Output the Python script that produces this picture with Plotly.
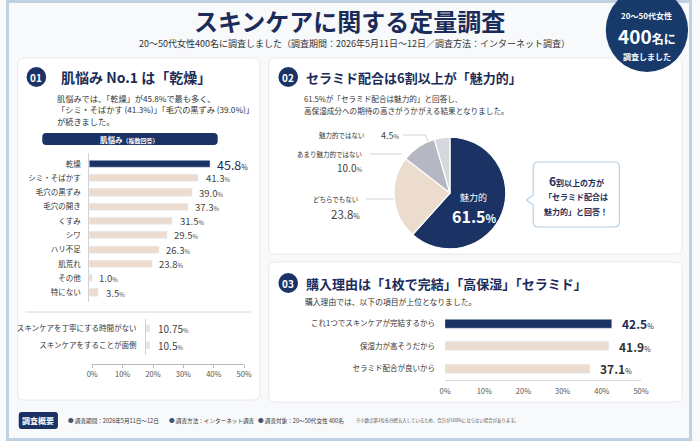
import plotly.graph_objects as go

W, H = 700, 441
FONT = "Noto Sans CJK JP"
NAVY = "#1b3264"
BEIGE = "#ecdccf"
TXT = "#333333"

# ---- data ----
nayami = ["乾燥", "シミ・そばかす", "毛穴の黒ずみ", "毛穴の開き", "くすみ", "シワ",
          "ハリ不足", "肌荒れ", "その他", "特にない"]
nayami_val = [45.8, 41.3, 39.0, 37.3, 31.5, 29.5, 26.3, 23.8, 1.0, 3.5]

sub_items = ["スキンケアを丁寧にする時間がない", "スキンケアをすることが面倒"]
sub_val = [10.75, 10.5]

pie_labels = ["魅力的", "どちらでもない", "あまり魅力的ではない", "魅力的ではない"]
pie_val = [61.5, 23.8, 10.0, 4.5]
pie_colors = [NAVY, "#ecdccd", "#b5b8c3", "#d6d8de"]

riyu = ["これ1つでスキンケアが完結するから", "保湿力が高そうだから", "セラミド配合が良いから"]
riyu_val = [42.5, 41.9, 37.1]

ticks_pct = [0, 10, 20, 30, 40, 50]


def X(p):
    return p / W


def Y(p):
    return 1 - p / H


def rrect(x0, y0, x1, y1, r):
    # rounded rect path in paper coords from pixel coords
    pts = [
        f"M{X(x0 + r)},{Y(y0)}", f"L{X(x1 - r)},{Y(y0)}", f"Q{X(x1)},{Y(y0)} {X(x1)},{Y(y0 + r)}",
        f"L{X(x1)},{Y(y1 - r)}", f"Q{X(x1)},{Y(y1)} {X(x1 - r)},{Y(y1)}",
        f"L{X(x0 + r)},{Y(y1)}", f"Q{X(x0)},{Y(y1)} {X(x0)},{Y(y1 - r)}",
        f"L{X(x0)},{Y(y0 + r)}", f"Q{X(x0)},{Y(y0)} {X(x0 + r)},{Y(y0)}", "Z",
    ]
    return " ".join(pts)


def callout(x0, y0, x1, y1, r, py):
    pts = [
        f"M{X(x0 + r)},{Y(y0)}", f"L{X(x1 - r)},{Y(y0)}", f"Q{X(x1)},{Y(y0)} {X(x1)},{Y(y0 + r)}",
        f"L{X(x1)},{Y(y1 - r)}", f"Q{X(x1)},{Y(y1)} {X(x1 - r)},{Y(y1)}",
        f"L{X(x0 + r)},{Y(y1)}", f"Q{X(x0)},{Y(y1)} {X(x0)},{Y(y1 - r)}",
        f"L{X(x0)},{Y(py + 5)}", f"L{X(x0 - 7)},{Y(py)}", f"L{X(x0)},{Y(py - 5)}",
        f"L{X(x0)},{Y(y0 + r)}", f"Q{X(x0)},{Y(y0)} {X(x0 + r)},{Y(y0)}", "Z",
    ]
    return " ".join(pts)


shapes = []
ann = []


def text(x, y, s, size=8, color=TXT, anchor="left", bold=False):
    ann.append(dict(x=X(x), y=Y(y), xref="paper", yref="paper", text=f"<b>{s}</b>" if bold else s,
                    showarrow=False, xanchor=anchor, yanchor="middle",
                    font=dict(family=FONT, size=size, color=color)))


def line(x0, y0, x1, y1, color="#cfd3d8", width=1):
    shapes.append(dict(type="line", xref="paper", yref="paper", x0=X(x0), y0=Y(y0), x1=X(x1), y1=Y(y1),
                       line=dict(color=color, width=width), layer="below"))


# frame and panels
shapes.append(dict(type="rect", xref="paper", yref="paper", x0=X(1.5), y0=Y(439.5), x1=X(698.5), y1=Y(1.5),
                   line=dict(color="#bfd0e0", width=3), fillcolor="#f8f9fa", layer="below"))
for p in [(12, 58, 259, 400), (268, 58, 690, 254), (268, 262, 690, 402)]:
    shapes.append(dict(type="path", xref="paper", yref="paper", path=rrect(*p, 6),
                       line=dict(color="#e6e8ec", width=1), fillcolor="white", layer="below"))

# badge
shapes.append(dict(type="circle", xref="paper", yref="paper", x0=X(612), x1=X(696), y0=Y(72), y1=Y(-12),
                   fillcolor="#173a6b", line=dict(width=0), layer="below"))
text(654, 16, "20～50代女性", 8, "white", "center", True)
text(654, 36, "<b>400</b><span style='font-size:12px'>名に</span>", 19, "white", "center", True)
text(654, 56, "調査しました", 8, "white", "center", True)

# title
text(350, 20, "スキンケアに関する定量調査", 24, "#1c2c59", "center", True)
text(356, 44, "20～50代女性400名に調査しました（調査期間：2026年5月11日～12日／調査方法：インターネット調査）",
     9, "#333", "center")

# section numbers
for cx, cy, n in [(31, 77, "01"), (288, 77, "02"), (288, 283, "03")]:
    shapes.append(dict(type="circle", xref="paper", yref="paper", x0=X(cx - 10), x1=X(cx + 10),
                       y0=Y(cy + 10), y1=Y(cy - 10), fillcolor=NAVY, line=dict(width=0), layer="below"))
    text(cx, cy, n, 10, "white", "center", True)

# panel 1 texts
text(54, 77, "肌悩み No.1 は「乾燥」", 14, "#1c2c59", bold=True)
text(50, 98, "肌悩みでは、「乾燥」が45.8%で最も多く、", 8.2)
text(50, 109.5, "「シミ・そばかす (41.3%)」「毛穴の黒ずみ (39.0%)」", 8.2)
text(50, 121, "が続きました。", 8.2)
shapes.append(dict(type="path", xref="paper", yref="paper", path=rrect(37, 133, 216, 145, 4),
                   fillcolor=NAVY, line=dict(width=0), layer="below"))
text(126, 139, "肌悩み<span style='font-size:6px'>（複数回答）</span>", 7.5, "white", "center", True)
line(20, 312, 250, 312, "#d5d8dc", 1)

# panel 2 texts
text(304, 77, "セラミド配合は6割以上が「魅力的」", 13, "#1c2c59", bold=True)
text(302, 98, "61.5%が「セラミド配合は魅力的」と回答し、", 7.6)
text(302, 110, "高保湿成分への期待の高さがうかがえる結果となりました。", 7.6)

# pie labels and leaders
text(368, 135, "魅力的ではない", 6.5, "#333", "right")
text(381, 135, "4.5<span style='font-size:6px'>%</span>", 9, "#444", "left")
line(405, 135, 428, 135)
line(428, 135, 431, 143)
text(365, 154, "あまり魅力的ではない", 6.5, "#333", "right")
text(365, 167, "10.0<span style='font-size:6px'>%</span>", 10, "#444", "right")
line(371, 154, 404, 154)
text(361, 199, "どちらでもない", 6.5, "#333", "right")
text(363, 214, "23.8<span style='font-size:7px'>%</span>", 11.5, "#444", "right")
line(367, 199, 397, 199)
text(477, 197, "魅力的", 9, "white", "center")
text(478, 216, "61.5<span style='font-size:11px'>%</span>", 16, "white", "center", True)

# callout
shapes.append(dict(type="path", xref="paper", yref="paper", path=callout(538, 162, 626, 227, 5, 200),
                   fillcolor="white", line=dict(color="#b9cfe2", width=1.2), layer="below"))
text(582, 181, "<span style='font-size:12px'>6</span>割以上の方が", 8, "#1c2c59", "center", True)
text(582, 196, "「セラミド配合は", 8, "#1c2c59", "center", True)
text(582, 211, "魅力的」と回答！", 8, "#1c2c59", "center", True)

# panel 3 texts
text(304, 283, "購入理由は「1枚で完結」「高保湿」「セラミド」", 13, "#1c2c59", bold=True)
text(303, 301, "購入理由では、以下の項目が上位となりました。", 7.8)

# footer
shapes.append(dict(type="path", xref="paper", yref="paper", path=rrect(13, 412, 53, 429, 3),
                   fillcolor=NAVY, line=dict(width=0), layer="below"))
text(33, 420.5, "調査概要", 8, "white", "center", True)
text(61, 420.5, "<span style='color:#46536e'>●</span> 調査期間：2026年5月11日～12日", 5.6, "#333")
text(164, 420.5, "<span style='color:#46536e'>●</span> 調査方法：インターネット調査", 5.6, "#333")
text(255, 420.5, "<span style='color:#46536e'>●</span> 調査対象：20～50代女性 400名", 5.6, "#333")
text(355, 420.5, "※小数点第2位を四捨五入しているため、合計が100%にならない場合があります。", 4.4, "#555")

fig = go.Figure()

# chart 1
fig.add_trace(go.Bar(x=nayami_val, y=nayami, orientation="h", width=0.5,
                     marker=dict(color=[NAVY] + [BEIGE] * (len(nayami) - 1)),
                     xaxis="x", yaxis="y", hoverinfo="skip"))
for i, (c, v) in enumerate(zip(nayami, nayami_val)):
    if i == 0:
        s = f"{v}<span style='font-size:7px'>%</span>"
        f = dict(family=FONT, size=12.5, color="#1c2c59")
    else:
        s = f"{v}<span style='font-size:6px'>%</span>"
        f = dict(family=FONT, size=9.5, color="#444")
    ann.append(dict(x=v, y=c, xref="x", yref="y", text=s, showarrow=False, xanchor="left",
                    xshift=5, font=f))

# chart 1 sub
fig.add_trace(go.Bar(x=sub_val, y=sub_items, orientation="h", width=0.38,
                     marker=dict(color="#e3e4e8"), xaxis="x2", yaxis="y2", hoverinfo="skip"))
for c, v in zip(sub_items, sub_val):
    ann.append(dict(x=v, y=c, xref="x2", yref="y2", text=f"{v}<span style='font-size:6px'>%</span>",
                    showarrow=False, xanchor="left", xshift=6, font=dict(family=FONT, size=10, color="#444")))

# percentage scale shown under the sub chart (carrier for the axis only, nothing drawn)
fig.add_trace(go.Scatter(x=ticks_pct, y=[0] * len(ticks_pct), mode="markers",
                         marker=dict(opacity=0), xaxis="x3", yaxis="y3", hoverinfo="skip"))

# pie
fig.add_trace(go.Pie(labels=pie_labels, values=pie_val, sort=False, direction="clockwise", rotation=0,
                     marker=dict(colors=pie_colors, line=dict(color="white", width=1.2)),
                     textinfo="none", hoverinfo="skip", showlegend=False,
                     domain=dict(x=[X(396), X(510)], y=[Y(250), Y(136)])))

# chart 3
fig.add_trace(go.Bar(x=riyu_val, y=riyu, orientation="h", width=0.42,
                     marker=dict(color=[NAVY, BEIGE, BEIGE]), xaxis="x4", yaxis="y4", hoverinfo="skip"))
for i, (c, v) in enumerate(zip(riyu, riyu_val)):
    col = "#1c2c59" if i == 0 else "#333"
    ann.append(dict(x=v, y=c, xref="x4", yref="y4",
                    text=f"<b>{v}</b><span style='font-size:7px'>%</span>",
                    showarrow=False, xanchor="left", xshift=8, font=dict(family=FONT, size=12, color=col)))

tickfont = dict(family=FONT, size=7.5, color="#555")
labfont = dict(family=FONT, size=7.5, color=TXT)

fig.update_layout(
    width=W, height=H, margin=dict(l=0, r=0, t=0, b=0),
    paper_bgcolor="#f8f9fa", plot_bgcolor="rgba(0,0,0,0)",
    showlegend=False, bargap=0, font=dict(family=FONT),
    shapes=shapes, annotations=ann,
    xaxis=dict(domain=[X(85), X(220)], range=[0, 50], visible=False, fixedrange=True),
    yaxis=dict(domain=[Y(301.5), Y(152.5)], autorange="reversed", showline=True, linecolor="#cfd3d8",
               ticks="", tickfont=labfont, ticklabelstandoff=6, showgrid=False, anchor="x"),
    xaxis2=dict(domain=[X(143), X(250)], range=[0, 300], visible=False, anchor="y2"),
    yaxis2=dict(domain=[Y(355), Y(319)], autorange="reversed", showline=True, linecolor="#cfd3d8",
                ticks="", tickfont=labfont, ticklabelstandoff=7, showgrid=False, anchor="x2"),
    xaxis3=dict(domain=[X(88), X(243)], range=[0, 50], tickvals=ticks_pct,
                ticktext=[f"{t}%" for t in ticks_pct], showline=True, linecolor="#b8bcc2",
                ticks="outside", ticklen=3, tickcolor="#b8bcc2", tickfont=tickfont, showgrid=False,
                zeroline=False, anchor="y3"),
    yaxis3=dict(domain=[Y(364), Y(362)], range=[-1, 1], visible=False, anchor="x3"),
    xaxis4=dict(domain=[X(448), X(648)], range=[0, 50], tickvals=ticks_pct,
                ticktext=[f"{t}%" for t in ticks_pct], showline=True, linecolor="#d5d8dc",
                ticks="", tickfont=tickfont, showgrid=False, zeroline=False, anchor="y4",
                ticklabelstandoff=4),
    yaxis4=dict(domain=[Y(380), Y(312.5)], autorange="reversed", showline=False, ticks="",
                tickfont=dict(family=FONT, size=7.5, color=TXT), ticklabelstandoff=9, showgrid=False,
                anchor="x4"),
)

# page has a default 8px body margin; drop it so the figure fills the window
fig.write_html("out.html", config={"displayModeBar": False},
               post_script="document.body.style.margin='0';document.body.style.overflow='hidden';")
